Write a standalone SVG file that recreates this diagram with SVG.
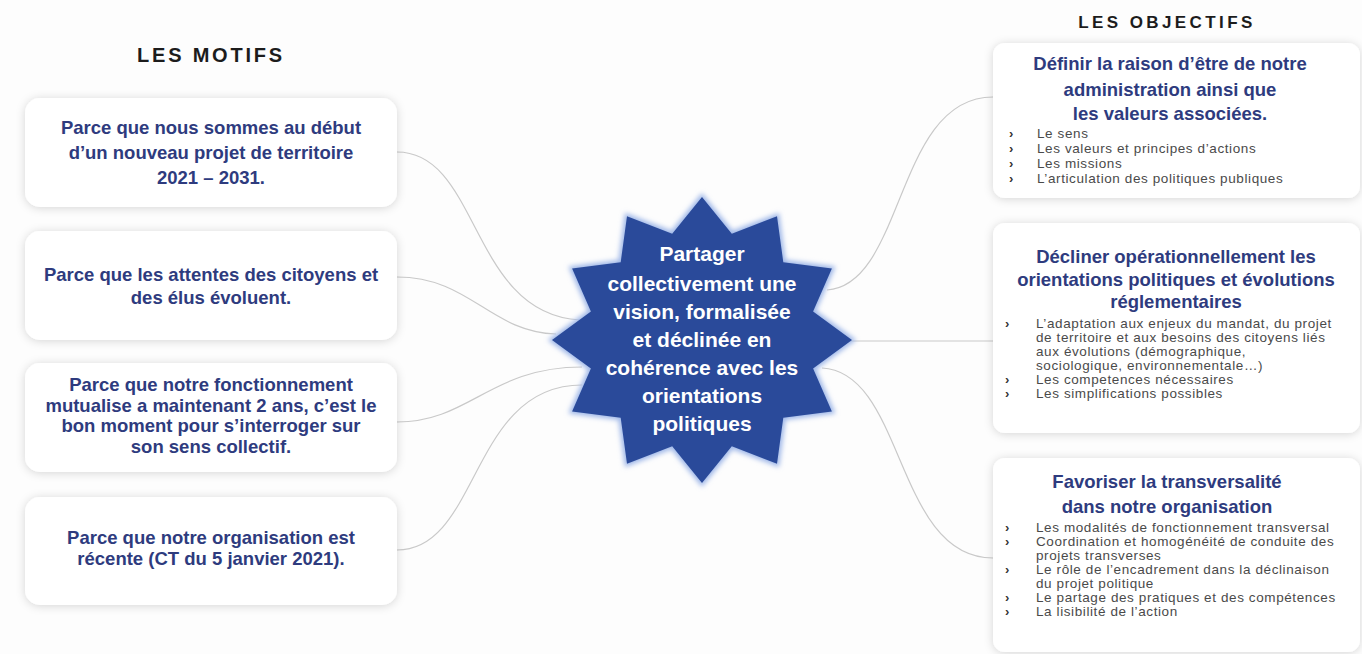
<svg xmlns="http://www.w3.org/2000/svg" width="1362" height="654" viewBox="0 0 1362 654">
<style>
.bg{fill:#fdfdfd}
.box{fill:#ffffff;filter:url(#sh)}
.title{font-family:"Liberation Sans",Arial,sans-serif;font-weight:bold;fill:#1c1c1c;text-anchor:middle}
.motif{font-family:"Liberation Sans",Arial,sans-serif;font-weight:bold;font-size:18.5px;fill:#2e3b7e;text-anchor:middle}
.head{font-family:"Liberation Sans",Arial,sans-serif;font-weight:bold;font-size:18.5px;fill:#2e3b7e;text-anchor:middle}
.bul{font-family:"Liberation Sans",Arial,sans-serif;font-size:13.5px;letter-spacing:0.6px;fill:#4a4a4a}
.chev{font-family:"Liberation Sans",Arial,sans-serif;font-weight:bold;font-size:13px;fill:#333333}
.star{font-family:"Liberation Sans",Arial,sans-serif;font-weight:bold;font-size:21px;fill:#ffffff;text-anchor:middle}
.con{fill:none;stroke:#c9c9c9;stroke-width:1.2}
</style>
<defs>
<filter id="sh" x="-10%" y="-20%" width="120%" height="140%">
<feDropShadow dx="0" dy="1" stdDeviation="5" flood-color="#000000" flood-opacity="0.16"/>
</filter>
<filter id="glow" x="-20%" y="-20%" width="140%" height="140%">
<feGaussianBlur stdDeviation="2.5"/>
</filter>
</defs>
<rect class="bg" x="0" y="0" width="1362" height="654"/>

<g id="connectors">
<path class="con" d="M397,152 C480,152 470,314 580,320"/>
<path class="con" d="M397,277 C470,277 490,332 556,334"/>
<path class="con" d="M397,422 C470,422 490,367 582,367"/>
<path class="con" d="M397,550 C480,550 470,385 582,385"/>
<path class="con" d="M827,290 C905,285 895,97 993,97"/>
<path class="con" d="M850,341 L993,341"/>
<path class="con" d="M822,368 C905,372 895,558 993,558"/>
</g>

<g id="title-motifs">
<text class="title" x="211" y="62" font-size="20" letter-spacing="2.8">LES MOTIFS</text>
</g>
<g id="title-objectifs">
<text class="title" x="1167" y="28" font-size="17" letter-spacing="3.4">LES OBJECTIFS</text>
</g>

<g id="motif1">
<rect class="box" x="25" y="98" width="372" height="109" rx="15"/>
<text class="motif" x="211" y="134">Parce que nous sommes au début</text>
<text class="motif" x="211" y="159">d’un nouveau projet de territoire</text>
<text class="motif" x="211" y="184">2021 – 2031.</text>
</g>
<g id="motif2">
<rect class="box" x="25" y="231" width="372" height="109" rx="15"/>
<text class="motif" x="211" y="281">Parce que les attentes des citoyens et</text>
<text class="motif" x="211" y="304">des élus évoluent.</text>
</g>
<g id="motif3">
<rect class="box" x="25" y="363" width="372" height="109" rx="15"/>
<text class="motif" x="211" y="391">Parce que notre fonctionnement</text>
<text class="motif" x="211" y="412">mutualise a maintenant 2 ans, c’est le</text>
<text class="motif" x="211" y="432">bon moment pour s’interroger sur</text>
<text class="motif" x="211" y="453">son sens collectif.</text>
</g>
<g id="motif4">
<rect class="box" x="25" y="497" width="372" height="108" rx="15"/>
<text class="motif" x="211" y="544">Parce que notre organisation est</text>
<text class="motif" x="211" y="565">récente (CT du 5 janvier 2021).</text>
</g>

<g id="center">
<polygon fill="#9fb7e8" stroke="#9fb7e8" stroke-width="5" filter="url(#glow)" points="702,197 731.8,233.7 777,216.2 783.3,262.2 831.9,268.5 813.1,311.5 852,340 813.1,368.5 831.9,411.5 783.3,417.8 777,463.8 731.8,446.3 702,483 672.2,446.3 627,463.8 620.7,417.8 572.1,411.5 590.9,368.5 552,340 590.9,311.5 572.1,268.5 620.7,262.2 627,216.2 672.2,233.7"/>
<polygon fill="#2a4a9a" points="702,197 731.8,233.7 777,216.2 783.3,262.2 831.9,268.5 813.1,311.5 852,340 813.1,368.5 831.9,411.5 783.3,417.8 777,463.8 731.8,446.3 702,483 672.2,446.3 627,463.8 620.7,417.8 572.1,411.5 590.9,368.5 552,340 590.9,311.5 572.1,268.5 620.7,262.2 627,216.2 672.2,233.7"/>
<text class="star" x="702" y="261">Partager</text>
<text class="star" x="702" y="291">collectivement une</text>
<text class="star" x="702" y="319">vision, formalisée</text>
<text class="star" x="702" y="347">et déclinée en</text>
<text class="star" x="702" y="375">cohérence avec les</text>
<text class="star" x="702" y="403">orientations</text>
<text class="star" x="702" y="431">politiques</text>
</g>

<g id="objectif1">
<rect class="box" x="993" y="43" width="367" height="155" rx="12"/>
<text class="head" x="1170" y="70">Définir la raison d’être de notre</text>
<text class="head" x="1170" y="96">administration ainsi que</text>
<text class="head" x="1170" y="120">les valeurs associées.</text>
<text class="chev" x="1009" y="138">›</text><text class="bul" x="1037" y="138">Le sens</text>
<text class="chev" x="1009" y="153">›</text><text class="bul" x="1037" y="153">Les valeurs et principes d’actions</text>
<text class="chev" x="1009" y="168">›</text><text class="bul" x="1037" y="168">Les missions</text>
<text class="chev" x="1009" y="183">›</text><text class="bul" x="1037" y="183">L’articulation des politiques publiques</text>
</g>

<g id="objectif2">
<rect class="box" x="993" y="223" width="367" height="210" rx="12"/>
<text class="head" x="1176" y="263">Décliner opérationnellement les</text>
<text class="head" x="1176" y="286">orientations politiques et évolutions</text>
<text class="head" x="1176" y="308">réglementaires</text>
<text class="chev" x="1005" y="328">›</text><text class="bul" x="1036" y="328">L’adaptation aux enjeux du mandat, du projet</text>
<text class="bul" x="1036" y="342">de territoire et aux besoins des citoyens liés</text>
<text class="bul" x="1036" y="356">aux évolutions (démographique,</text>
<text class="bul" x="1036" y="370">sociologique, environnementale…)</text>
<text class="chev" x="1005" y="384">›</text><text class="bul" x="1036" y="384">Les competences nécessaires</text>
<text class="chev" x="1005" y="398">›</text><text class="bul" x="1036" y="398">Les simplifications possibles</text>
</g>

<g id="objectif3">
<rect class="box" x="993" y="458" width="367" height="194" rx="12"/>
<text class="head" x="1167" y="488">Favoriser la transversalité</text>
<text class="head" x="1167" y="513">dans notre organisation</text>
<text class="chev" x="1005" y="532">›</text><text class="bul" x="1036" y="532">Les modalités de fonctionnement transversal</text>
<text class="chev" x="1005" y="546">›</text><text class="bul" x="1036" y="546">Coordination et homogénéité de conduite des</text>
<text class="bul" x="1036" y="560">projets transverses</text>
<text class="chev" x="1005" y="574">›</text><text class="bul" x="1036" y="574">Le rôle de l’encadrement dans la déclinaison</text>
<text class="bul" x="1036" y="588">du projet politique</text>
<text class="chev" x="1005" y="602">›</text><text class="bul" x="1036" y="602">Le partage des pratiques et des compétences</text>
<text class="chev" x="1005" y="616">›</text><text class="bul" x="1036" y="616">La lisibilité de l’action</text>
</g>
</svg>
